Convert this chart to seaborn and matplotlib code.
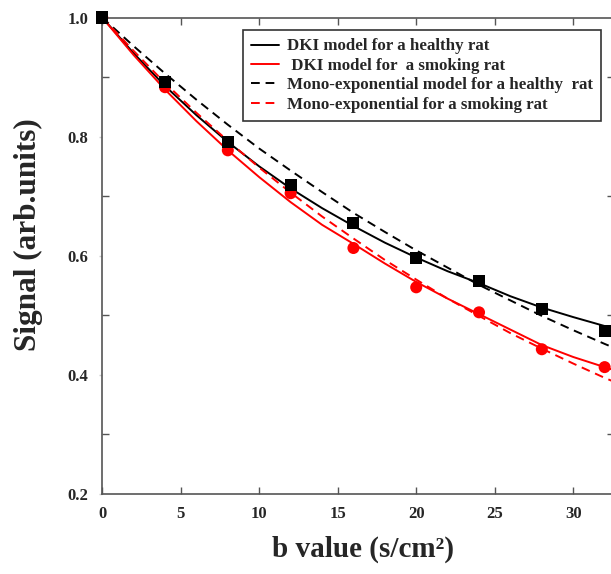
import numpy as np
import pandas as pd
import matplotlib
matplotlib.use("Agg")
import matplotlib.pyplot as plt
from matplotlib.ticker import MultipleLocator
import seaborn as sns

# measured signal (markers)
b_meas = [0, 4, 8, 12, 16, 20, 24, 28, 32]
healthy_meas = [1.000, 0.891, 0.791, 0.718, 0.655, 0.596, 0.557, 0.510, 0.473]
smoking_meas = [1.000, 0.883, 0.777, 0.705, 0.613, 0.547, 0.505, 0.443, 0.413]

# fitted curves, every 2 s/cm2
b_fit = [0, 2, 4, 6, 8, 10, 12, 14, 16, 18, 20, 22, 24, 26, 28, 30, 32, 34]
dki_healthy = [1.000, 0.940, 0.885, 0.836, 0.791, 0.750, 0.713, 0.680, 0.650,
               0.622, 0.597, 0.574, 0.554, 0.532, 0.513, 0.497, 0.482, 0.468]
dki_smoking = [1.000, 0.937, 0.879, 0.826, 0.777, 0.732, 0.690, 0.652, 0.620,
               0.587, 0.556, 0.528, 0.502, 0.476, 0.450, 0.430, 0.413, 0.396]
mono_healthy = [1.000, 0.952, 0.906, 0.862, 0.820, 0.780, 0.743, 0.707, 0.672,
                0.640, 0.609, 0.580, 0.551, 0.525, 0.499, 0.475, 0.452, 0.430]
mono_smoking = [1.000, 0.944, 0.890, 0.840, 0.793, 0.748, 0.706, 0.666, 0.629,
                0.593, 0.560, 0.528, 0.499, 0.470, 0.444, 0.419, 0.395, 0.373]

labels = ["DKI model for a healthy rat",
          " DKI model for  a smoking rat",
          "Mono-exponential model for a healthy  rat",
          "Mono-exponential for a smoking rat"]

sns.set_style("ticks")
plt.rcParams["font.family"] = ["Liberation Serif", "DejaVu Serif"]
plt.rcParams["font.weight"] = "bold"

fits = pd.DataFrame({"b": b_fit, "dki_h": dki_healthy, "dki_s": dki_smoking,
                     "mono_h": mono_healthy, "mono_s": mono_smoking})
meas = pd.DataFrame({"b": b_meas, "healthy": healthy_meas, "smoking": smoking_meas})

fig = plt.figure(figsize=(6.11, 5.74), dpi=100)
ax = fig.add_axes([0.1673, 0.1394, 1.005 - 0.1673, 0.9695 - 0.1394])

lw = 1.4
sns.lineplot(data=fits, x="b", y="dki_h", ax=ax, color="black", lw=lw, label=labels[0])
sns.lineplot(data=fits, x="b", y="dki_s", ax=ax, color="#ff0000", lw=lw, label=labels[1])
sns.lineplot(data=fits, x="b", y="mono_h", ax=ax, color="black", lw=lw, label=labels[2],
             dashes=False, linestyle=(0, (4.5, 3)))
sns.lineplot(data=fits, x="b", y="mono_s", ax=ax, color="#ff0000", lw=lw, label=labels[3],
             dashes=False, linestyle=(0, (4.5, 3)))

sns.scatterplot(data=meas, x="b", y="smoking", ax=ax, color="#ff0000", marker="o",
                s=75, edgecolor="none", zorder=4, clip_on=False)
sns.scatterplot(data=meas, x="b", y="healthy", ax=ax, color="black", marker="s",
                s=75, edgecolor="none", zorder=5, clip_on=False)

ax.set_xlim(0, 32.6)
ax.set_ylim(0.2, 1.0)
ax.xaxis.set_major_locator(MultipleLocator(5))
ax.yaxis.set_major_locator(MultipleLocator(0.2))
ax.yaxis.set_minor_locator(MultipleLocator(0.1))
ax.yaxis.set_major_formatter(matplotlib.ticker.FormatStrFormatter("%.1f"))

for s in ax.spines.values():
    s.set_color("#555555")
    s.set_linewidth(1.2)
    s.set_visible(True)

ax.tick_params(axis="x", which="major", direction="in", length=5, width=1,
               color="#555555", top=True, bottom=True, pad=9, labelsize=12)
ax.tick_params(axis="y", which="major", direction="out", length=2, width=1,
               color="#cccccc", left=True, right=True, pad=8, labelsize=12)
ax.tick_params(axis="y", which="minor", direction="in", length=5, width=1,
               color="#555555", left=True, right=True)
for lab in ax.get_xticklabels() + ax.get_yticklabels():
    lab.set_fontweight("bold")

ax.set_xlabel("b value (s/cm²)", fontsize=21, fontweight="bold")
ax.set_ylabel("Signal (arb.units)", fontsize=22.5, fontweight="bold")
ax.xaxis.set_label_coords(0.51, -0.088)
ax.yaxis.set_label_coords(-0.115, 0.545)

leg = ax.legend(loc="upper left", bbox_to_anchor=(243 / 611, 1 - 30 / 574),
                bbox_transform=fig.transFigure, frameon=True, fancybox=False,
                framealpha=1, edgecolor="#333333", prop={"size": 12.2, "weight": "bold"},
                handlelength=1.65, handletextpad=0.42, labelspacing=0.2,
                borderpad=0.5, borderaxespad=0)
leg.get_frame().set_linewidth(1.2)

fig.savefig("out.png", dpi=100)
